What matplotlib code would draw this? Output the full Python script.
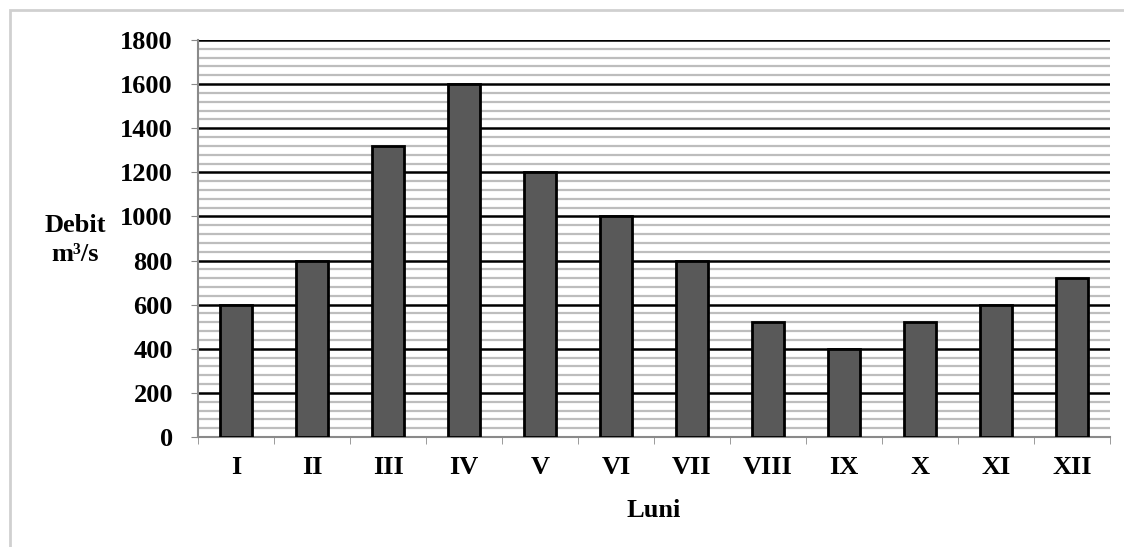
import numpy as np
import matplotlib.pyplot as plt
from matplotlib.patches import Rectangle
from matplotlib.ticker import MultipleLocator

# Debit mediu lunar
luni = ["I", "II", "III", "IV", "V", "VI", "VII", "VIII", "IX", "X", "XI", "XII"]
debit = [600, 800, 1320, 1600, 1200, 1000, 800, 520, 400, 520, 600, 720]
y_ticks = [0, 200, 400, 600, 800, 1000, 1200, 1400, 1600, 1800]

plt.rcParams["font.family"] = ["Liberation Serif", "DejaVu Serif"]
plt.rcParams["font.weight"] = "bold"

fig = plt.figure(figsize=(11.24, 5.47), dpi=100)
ax = fig.add_axes([198 / 1124, 1 - 437 / 547, 912 / 1124, 397 / 547])

# chenar gri in jurul figurii
fig.patches.append(Rectangle((10 / 1124, -0.1), 1.2, 1 - 10 / 547 + 0.1,
                             transform=fig.transFigure, fill=False,
                             edgecolor="#d0d0d0", linewidth=2))

x = np.arange(len(luni))
ax.bar(x, debit, width=0.42, color="#595959", edgecolor="black", linewidth=2, zorder=3)

ax.set_xlim(-0.5, len(luni) - 0.5)
ax.set_ylim(0, 1800)
ax.set_yticks(y_ticks)
ax.yaxis.set_minor_locator(MultipleLocator(40))
ax.set_xticks(x)
ax.set_xticklabels(luni)
ax.set_xticks(np.arange(-0.5, len(luni)), minor=True)

ax.grid(which="major", axis="y", color="black", linewidth=1.8, zorder=1)
ax.grid(which="minor", axis="y", color="#bdbdbd", linewidth=1.6, zorder=1)
ax.set_axisbelow(True)

for s in ["top", "right"]:
    ax.spines[s].set_visible(False)
for s in ["left", "bottom"]:
    ax.spines[s].set_color("#8a8a8a")
    ax.spines[s].set_linewidth(1.5)

ax.tick_params(axis="y", which="major", length=5, color="#8a8a8a", labelsize=19, pad=13)
ax.tick_params(axis="y", which="minor", length=0)
ax.tick_params(axis="x", which="major", length=0, labelsize=19, pad=14)
ax.tick_params(axis="x", which="minor", length=5, color="#8a8a8a")

ax.set_xlabel("Luni", fontsize=19, fontweight="bold", labelpad=14)
fig.text(75 / 1124, 1 - 240 / 547, "Debit\nm³/s", ha="center", va="center",
         fontsize=19, fontweight="bold", linespacing=1.3)

fig.savefig("out.png", dpi=100)
